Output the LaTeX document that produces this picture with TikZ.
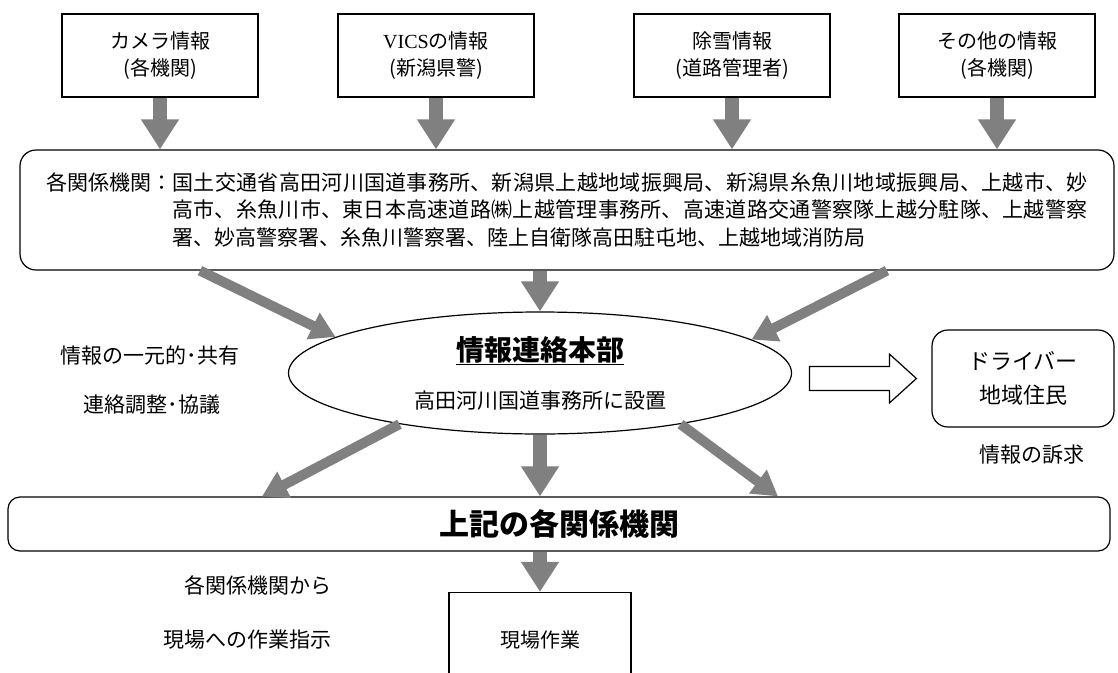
\documentclass[tikz,border=0pt]{standalone}
\usepackage{fontspec}
\setmainfont{Noto Sans CJK JP}
\newfontfamily\vicsfont{Liberation Serif}
\usetikzlibrary{arrows.meta,shapes.geometric}
\definecolor{flowgray}{RGB}{128,128,128}
\XeTeXlinebreaklocale "ja"
\XeTeXlinebreakskip=0pt plus 2pt

\tikzset{
  infobox/.style={draw, line width=1.2pt, minimum width=196pt, minimum height=83pt, align=center, font=\fontsize{20}{27}\selectfont},
  roundbox/.style={draw, line width=1.2pt, rounded corners=16pt},
  flow/.style={draw=flowgray, line width=14pt, -{Triangle[length=30pt,width=36pt]}},
  slant/.style={draw=flowgray, line width=10pt, -{Triangle[length=25pt,width=28pt]}},
  note/.style={font=\fontsize{21}{21}\selectfont},
}

\begin{document}
\begin{tikzpicture}[x=1pt,y=-1pt]
  \useasboundingbox (0,0) rectangle (1118,672);

  %% information sources
  \foreach \name/\x/\txt in {cam/160/{カメラ情報\\(各機関)}, vics/436/{{\vicsfont VICS}の情報\\(新潟県警)}, snow/732/{除雪情報\\(道路管理者)}, other/997/{その他の情報\\(各機関)}}
    \node [infobox] (\name) at (\x,55.5) {\txt};

  %% agencies
  \node [roundbox, minimum width=1094pt, minimum height=120pt, font=\fontsize{21}{27.5}\selectfont] (agencies) at (567,210)
    {各関係機関：\parbox[t]{915pt}{国土交通省高田河川国道事務所、新潟県上越地域振興局、新潟県糸魚川地域振興局、上越市、妙\linebreak
     高市、糸魚川市、東日本高速道路㈱上越管理事務所、高速道路交通警察隊上越分駐隊、上越警察\linebreak
     署、妙高警察署、糸魚川警察署、陸上自衛隊高田駐屯地、上越地域消防局}};

  %% headquarters
  \node [ellipse, draw, line width=1.2pt, minimum width=503pt, minimum height=122pt, align=center, font=\fontsize{21}{36}\selectfont] (hq) at (540,373)
    {{\fontsize{28}{28}\selectfont\bfseries\underline{情報連絡本部}}\\[12pt]高田河川国道事務所に設置};

  \node [note] (share) at (150,355) {情報の一元的･共有};
  \node [note] (coord) at (152,405) {連絡調整･協議};

  %% drivers and residents
  \node [roundbox, minimum width=182pt, minimum height=97pt, align=center, font=\fontsize{22}{34}\selectfont] (drivers) at (1023,378.5) {ドライバー\\地域住民};
  \node [note] (appeal) at (1032,455) {情報の訴求};
  \draw [line width=1.2pt] ([xshift=-15pt]drivers.west) -- ++(-27,-24.5) -- ++(0,12.5) -- ++(-80,0)
    -- ++(0,24) -- ++(80,0) -- ++(0,12.5) -- cycle;

  %% all agencies and field work
  \node [roundbox, rounded corners=12pt, minimum width=1102pt, minimum height=54pt, font=\fontsize{30}{30}\selectfont\bfseries] (all) at (559,524) {上記の各関係機関};
  \node [draw, line width=1.2pt, minimum width=182pt, minimum height=95pt, font=\fontsize{20}{20}\selectfont] (field) at (540,640) {現場作業};
  \node [note] (order) at (258,585) {各関係機関から};
  \node [note] (site) at (247,640) {現場への作業指示};

  %% arrows
  \foreach \name in {cam,vics,snow,other}
    \draw [flow] (\name.south) -- (\name.south |- agencies.north);
  \draw [slant] ([xshift=-367pt]agencies.south) -- (hq.170);
  \draw [flow] (hq.north |- agencies.south) -- (hq.north);
  \draw [slant] ([xshift=320pt]agencies.south) -- (hq.9);
  \draw [slant] (hq.200) -- ([xshift=-297pt]all.north);
  \draw [flow] (hq.south) -- (hq.south |- all.north);
  \draw [slant] (hq.340) -- ([xshift=219pt]all.north);
  \draw [flow] (all.south -| field.north) -- (field.north);

\end{tikzpicture}
\end{document}
